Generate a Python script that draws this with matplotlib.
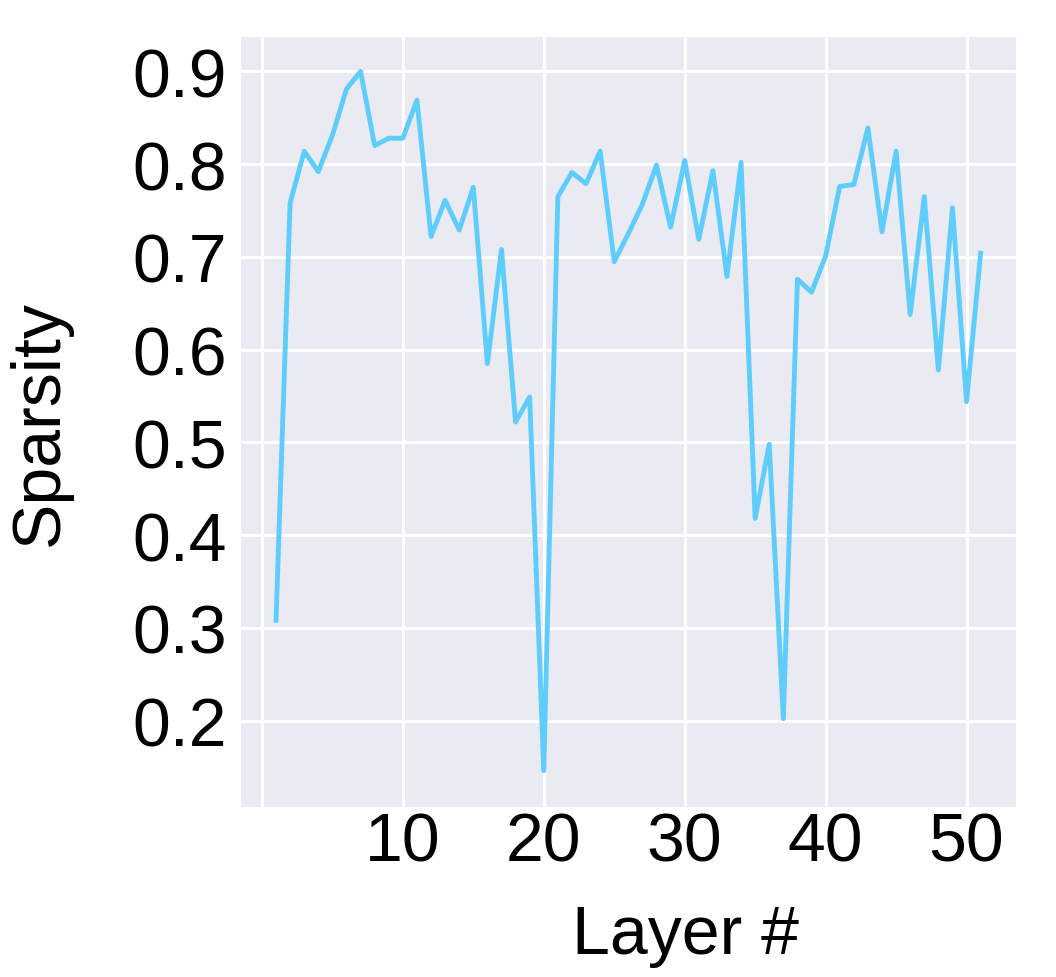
import numpy as np
import matplotlib
matplotlib.use('Agg')
from matplotlib import pyplot as plt

layers = list(range(1, 52))
sparsity = [0.308, 0.758, 0.814, 0.792, 0.831, 0.881, 0.900, 0.820, 0.828, 0.828,
            0.869, 0.722, 0.761, 0.729, 0.775, 0.585, 0.708, 0.522, 0.549, 0.146,
            0.765, 0.791, 0.779, 0.814, 0.695, 0.725, 0.757, 0.799, 0.732, 0.804,
            0.719, 0.793, 0.679, 0.802, 0.418, 0.498, 0.202, 0.676, 0.662, 0.701,
            0.776, 0.778, 0.839, 0.727, 0.814, 0.638, 0.765, 0.578, 0.753, 0.544,
            0.704]
xticks = [0, 10, 20, 30, 40, 50]
xtick_labels = ['', '10', '20', '30', '40', '50']
yticks = [0.2, 0.3, 0.4, 0.5, 0.6, 0.7, 0.8, 0.9]

plt.rcParams['font.family'] = ['Liberation Sans', 'DejaVu Sans']

fig = plt.figure(figsize=(10.56, 9.78), dpi=100)
ax = fig.add_axes([0.228, 0.174, 0.734, 0.787])
ax.set_facecolor('#EAEAF2')
for s in ax.spines.values():
    s.set_visible(False)
ax.grid(True, color='white', linewidth=2.2)
ax.set_axisbelow(True)

ax.plot(layers, sparsity, color='#5ECDFB', linewidth=3.5)

ax.set_xlim(-1.5, 53.5)
ax.set_ylim(0.107, 0.937)
ax.set_xticks(xticks)
ax.set_xticklabels(xtick_labels)
ax.set_yticks(yticks)
ax.set_yticklabels(['%.1f' % v for v in yticks])
ax.tick_params(axis='both', length=0, labelsize=49)
ax.tick_params(axis='x', pad=3)
ax.tick_params(axis='y', pad=10)
ax.set_xlabel('Layer #', fontsize=49)
ax.set_ylabel('Sparsity', fontsize=49)
ax.xaxis.set_label_coords(0.574, -0.125)
ax.yaxis.set_label_coords(-0.218, 0.5)

fig.savefig('out.png', dpi=100)
